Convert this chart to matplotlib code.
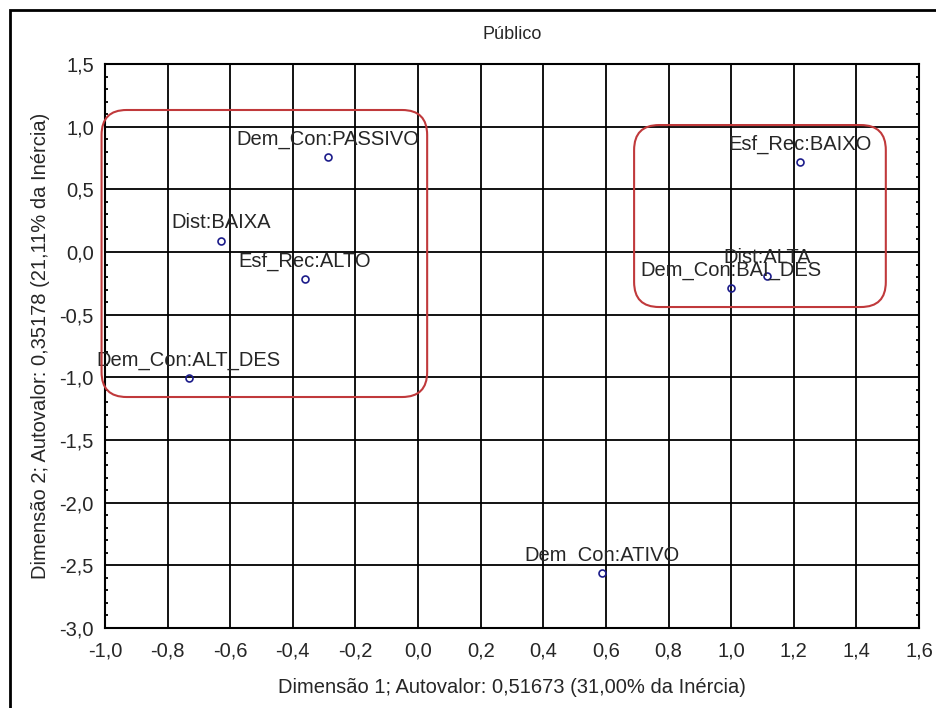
import numpy as np
import matplotlib
matplotlib.use("Agg")
import matplotlib.pyplot as plt
from matplotlib.patches import FancyBboxPatch, Rectangle

plt.rcParams['font.family'] = ['Liberation Sans', 'DejaVu Sans']

# categorias e coordenadas (dim 1, dim 2)
labels = ["Dem_Con:PASSIVO", "Dist:BAIXA", "Esf_Rec:ALTO", "Dem_Con:ALT_DES",
          "Esf_Rec:BAIXO", "Dist:ALTA", "Dem_Con:BAI_DES", "Dem_Con:ATIVO"]
dim1 = np.array([-0.288, -0.630, -0.361, -0.732, 1.220, 1.114, 1.000, 0.587])
dim2 = np.array([0.758, 0.088, -0.215, -1.005, 0.718, -0.190, -0.287, -2.560])

# grupos destacados: (x0, y0, x1, y1)
groups = [(-1.011, -1.157, 0.029, 1.133),
          (0.690, -0.439, 1.494, 1.013)]

xticks = np.arange(-1.0, 1.61, 0.2)
yticks = np.arange(-3.0, 1.51, 0.5)

title = "Público"
xlab = "Dimensão 1; Autovalor: 0,51673 (31,00% da Inércia)"
ylab = "Dimensão 2; Autovalor: 0,35178 (21,11% da Inércia)"

fs = 14.5
txtc = "#262626"

def fmt(v):
    return f"{np.round(v, 1) + 0.0:.1f}".replace(".", ",")

fig = plt.figure(figsize=(9.36, 7.08), dpi=100)
ax = fig.add_axes([105/936, 1-628/708, (919-105)/936, (628-64)/708])

ax.set_xlim(-1.0, 1.6)
ax.set_ylim(-3.0, 1.5)
ax.set_xticks(xticks)
ax.set_yticks(yticks)
ax.set_xticklabels([fmt(v) for v in xticks])
ax.set_yticklabels([fmt(v) for v in yticks])
ax.set_yticks(np.arange(-3.0, 1.51, 0.1), minor=True)
ax.grid(True, which="major", color="black", linewidth=1.3)
ax.tick_params(which="major", length=0, labelsize=fs, labelcolor=txtc)
ax.tick_params(axis="x", pad=10)
ax.tick_params(axis="y", pad=8)
ax.tick_params(which="minor", axis="y", direction="in", length=2.5, width=1.3,
               left=True, right=True)
for s in ax.spines.values():
    s.set_linewidth(1.5)
    s.set_color("black")

ax.plot(dim1, dim2, "o", ms=5, mfc="none", mec="#1c1c8a", mew=1.2, zorder=5)
for lb, x, y in zip(labels, dim1, dim2):
    ax.annotate(lb, (x, y), xytext=(0, 9), textcoords="offset points",
                ha="center", va="baseline", fontsize=fs, color=txtc,
                zorder=6)

# caixas arredondadas (raio ~25 px)
xpp = 2.6 / 814
ypp = 4.5 / 564
for x0, y0, x1, y1 in groups:
    box = FancyBboxPatch((x0, y0), x1 - x0, y1 - y0,
                         boxstyle=f"round,pad=0,rounding_size={25*xpp}",
                         mutation_aspect=ypp / xpp,
                         fill=False, edgecolor="#c0393b", linewidth=1.5,
                         clip_on=False, zorder=7)
    ax.add_patch(box)

ax.set_title(title, fontsize=13, color=txtc, pad=18)
ax.set_xlabel(xlab, fontsize=fs, color=txtc, labelpad=12)
ax.set_ylabel(ylab, fontsize=fs, color=txtc, labelpad=7)

# moldura externa
fig.add_artist(Rectangle((10/936, -0.1), 1.2, 1.1 - 10/708,
                         transform=fig.transFigure, fill=False,
                         edgecolor="black", linewidth=2))

fig.savefig("out.png", dpi=100)
